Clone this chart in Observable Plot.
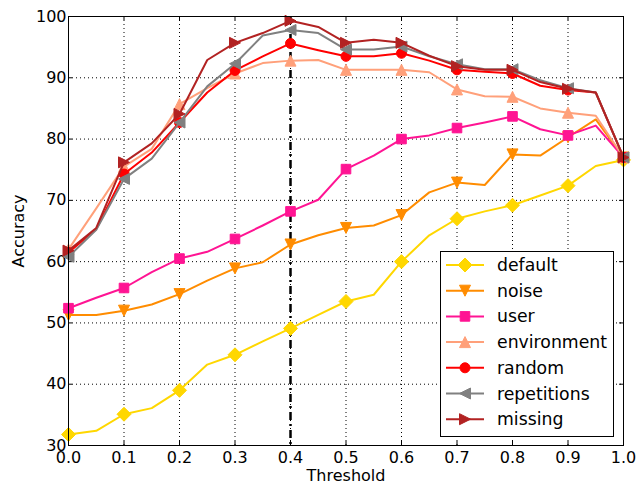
<!DOCTYPE html>
<html><head><meta charset="utf-8">
<script src="https://cdn.jsdelivr.net/npm/d3@7"></script>
<script src="https://cdn.jsdelivr.net/npm/@observablehq/plot@0.6"></script>
<style>
body{margin:0;background:#fff}
#chart{position:relative;width:639px;height:484px}
</style>
</head><body><div id="chart"></div>
<script>
const thresholds = [0.0,0.05,0.1,0.15,0.2,0.25,0.3,0.35,0.4,0.45,0.5,0.55,0.6,0.65,0.7,0.75,0.8,0.85,0.9,0.95,1.0];
const xTicks = [0.0,0.1,0.2,0.3,0.4,0.5,0.6,0.7,0.8,0.9,1.0];
const yTicks = [30,40,50,60,70,80,90,100];
const markedThresholds = [0.0,0.1,0.2,0.3,0.4,0.5,0.6,0.7,0.8,0.9,1.0];
const chosenThreshold = [0.4];

const seriesNames = ["default","noise","user","environment","random","repetitions","missing"];
const seriesColors = ["#FFD700","#FF8C00","#FF1493","#FFA07A","#FF0000","#808080","#B22222"];

const accDefault     = [31.8,32.4,35.1,36.1,39.0,43.2,44.8,47.0,49.1,51.3,53.5,54.6,60.0,64.3,67.0,68.2,69.2,70.8,72.4,75.6,76.6];
const accNoise       = [51.3,51.3,52.0,53.0,54.7,56.9,58.9,59.9,62.8,64.3,65.5,65.9,67.6,71.3,72.9,72.5,77.5,77.3,80.3,83.2,77.0];
const accUser        = [52.4,54.1,55.7,58.3,60.5,61.6,63.7,65.9,68.2,70.1,75.1,77.3,80.0,80.6,81.8,82.7,83.7,81.6,80.6,82.2,77.0];
const accEnvironment = [62.0,68.7,75.5,78.4,85.7,88.3,90.7,92.4,92.8,92.9,91.3,91.3,91.3,90.9,88.1,87.0,86.9,85.0,84.3,83.8,77.0];
const accRandom      = [61.5,65.3,74.3,77.8,82.7,87.6,91.2,93.5,95.6,94.5,93.5,93.5,94.0,92.8,91.3,91.0,90.7,88.7,88.0,87.6,77.0];
const accRepetitions = [60.8,65.2,73.5,76.8,82.7,88.6,92.3,96.9,97.8,97.3,94.6,94.6,95.1,93.5,92.2,91.4,91.4,89.6,88.3,87.6,77.0];
const accMissing     = [61.8,65.5,76.2,79.3,84.1,92.9,95.7,97.3,99.3,98.3,95.7,96.2,95.7,93.6,91.9,91.3,91.3,89.3,88.2,87.6,77.0];
const seriesValues = [accDefault,accNoise,accUser,accEnvironment,accRandom,accRepetitions,accMissing];

// custom marker shapes (matplotlib-like)
const sym = (fn) => ({draw(ctx, size){ const r = Math.sqrt(size/Math.PI); fn(ctx, r); }});
const shapes = {
  diamond: sym((c,r)=>{c.moveTo(0,-r);c.lineTo(r,0);c.lineTo(0,r);c.lineTo(-r,0);c.closePath();}),
  tdown:   sym((c,r)=>{c.moveTo(0,r);c.lineTo(-r,-r);c.lineTo(r,-r);c.closePath();}),
  square:  sym((c,r)=>{c.moveTo(-r,-r);c.lineTo(r,-r);c.lineTo(r,r);c.lineTo(-r,r);c.closePath();}),
  tup:     sym((c,r)=>{c.moveTo(0,-r);c.lineTo(r,r);c.lineTo(-r,r);c.closePath();}),
  circle:  sym((c,r)=>{c.moveTo(r,0);c.arc(0,0,r,0,2*Math.PI);c.closePath();}),
  tleft:   sym((c,r)=>{c.moveTo(-r,0);c.lineTo(r,-r);c.lineTo(r,r);c.closePath();}),
  tright:  sym((c,r)=>{c.moveTo(r,0);c.lineTo(-r,-r);c.lineTo(-r,r);c.closePath();})
};
const seriesShapes = ["diamond","tdown","square","tup","circle","tleft","tright"];
const seriesSizes = [7,5.5,4.8,5.5,5,5.5,5.5];

const W = 639, H = 484, mL = 68, mR = 16, mT = 16, mB = 39;
const innerH = H - mT - mB;

const marks = [
  Plot.gridX(xTicks, {stroke:"black", strokeOpacity:1, strokeWidth:1, strokeDasharray:"1,3"}),
  Plot.gridY(yTicks, {stroke:"black", strokeOpacity:1, strokeWidth:1, strokeDasharray:"1,3"}),
  // inward ticks on all four sides
  Plot.tickX(xTicks, {x:d=>d, stroke:"black", insetTop: innerH-4}),
  Plot.tickX(xTicks, {x:d=>d, stroke:"black", insetBottom: innerH-4}),
  Plot.tickY(yTicks, {y:d=>d, stroke:"black", insetRight: W-mL-mR-4}),
  Plot.tickY(yTicks, {y:d=>d, stroke:"black", insetLeft: W-mL-mR-4}),
  Plot.axisX({ticks:xTicks, tickSize:0, tickPadding:6, tickFormat:d3.format(".1f"), label:null, fill:"black"}),
  Plot.axisY({ticks:yTicks, tickSize:0, tickPadding:2, tickFormat:d3.format("d"), label:null, fill:"black"}),
  Plot.ruleX(chosenThreshold, {x:d=>d, stroke:"black", strokeWidth:2.5, strokeDasharray:"8,4,2,4"}),
  Plot.text(["Threshold"], {frameAnchor:"bottom", lineAnchor:"middle", textAnchor:"middle", dy:30.5, fontSize:16, fill:"black"}),
  Plot.text(["Accuracy"], {frameAnchor:"left", lineAnchor:"middle", textAnchor:"middle", dx:-50, rotate:-90, fontSize:16, fill:"black"})
];

seriesNames.forEach((name, i) => {
  const rows = thresholds.map((t, j) => ({t, v: seriesValues[i][j]}));
  marks.push(Plot.line(rows, {x:"t", y:"v", stroke:seriesColors[i], strokeWidth:2}));
  const mrows = rows.filter(d => markedThresholds.some(m => Math.abs(m - d.t) < 1e-9));
  marks.push(Plot.dot(mrows, {x:"t", y:"v", r:seriesSizes[i], symbol:shapes[seriesShapes[i]], fill:seriesColors[i], stroke:seriesColors[i], strokeWidth:1}));
});
marks.push(Plot.frame({stroke:"black", strokeWidth:1}));

const chart = Plot.plot({
  width: W, height: H,
  marginLeft: mL, marginRight: mR, marginTop: mT, marginBottom: mB,
  style: {fontFamily:"DejaVu Sans", fontSize:"16px", background:"white", color:"black"},
  x: {domain:[0,1]},
  y: {domain:[30,100]},
  marks
});
document.getElementById("chart").appendChild(chart);

// legend inside the plot area
const svg = d3.select(chart);
const lg = svg.append("g");
lg.append("rect").attr("x",440.5).attr("y",251.5).attr("width",173).attr("height",185)
  .attr("fill","white").attr("stroke","black").attr("stroke-width",1);
seriesNames.forEach((name, i) => {
  const y = 265 + i*25.7;
  lg.append("line").attr("x1",446).attr("x2",484).attr("y1",y).attr("y2",y)
    .attr("stroke",seriesColors[i]).attr("stroke-width",2);
  const p = d3.path();
  const r = seriesSizes[i];
  shapes[seriesShapes[i]].draw(p, r*r*Math.PI);
  lg.append("path").attr("d", p.toString()).attr("transform",`translate(465,${y})`)
    .attr("fill",seriesColors[i]).attr("stroke",seriesColors[i]).attr("stroke-width",1);
  lg.append("text").attr("x",497).attr("y",y).attr("dy","0.35em").attr("text-anchor","start")
    .attr("font-size",17.3).attr("font-family","DejaVu Sans").attr("fill","black").text(name);
});
</script>
</body></html>
